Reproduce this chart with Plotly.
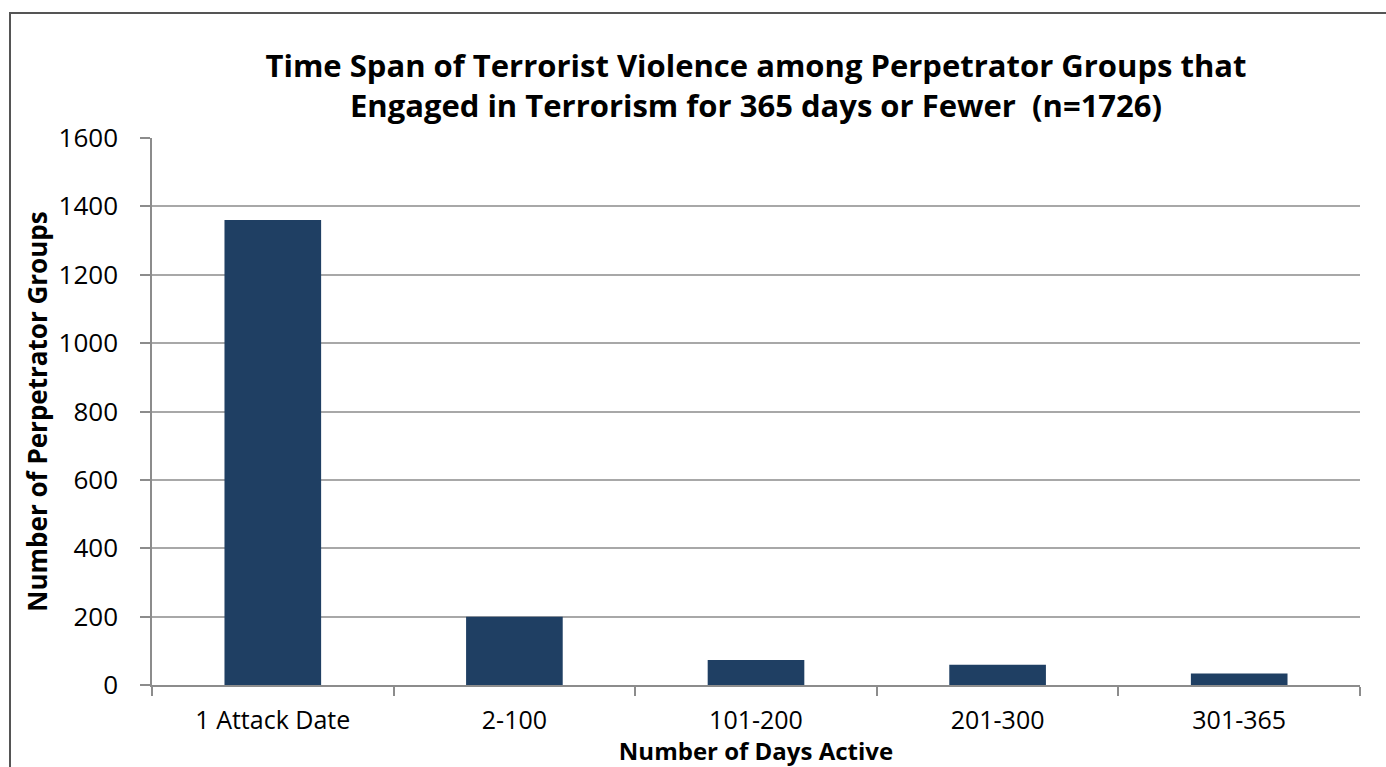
import plotly.graph_objects as go

categories = ["1 Attack Date", "2-100", "101-200", "201-300", "301-365"]
groups = [1360, 200, 73, 59, 34]
y_ticks = [0, 200, 400, 600, 800, 1000, 1200, 1400, 1600]

FONT = "Open Sans"
L, R, T, B = 152, 26, 138, 82
W, H = 1386, 767
pw, ph = W - L - R, H - T - B

fig = go.Figure(go.Bar(
    x=categories, y=groups,
    marker=dict(color="#1f3f63", line=dict(width=0)),
    width=0.4,
))

fig.update_layout(
    width=W, height=H,
    margin=dict(l=L, r=R, t=T, b=B),
    paper_bgcolor="white", plot_bgcolor="white",
    showlegend=False,
    title=dict(
        text="Time Span of Terrorist Violence among Perpetrator Groups that<br>Engaged in Terrorism for 365 days or Fewer  (n=1726)",
        x=0.5, xref="paper", xanchor="center",
        y=1 - 77 / H, yanchor="middle",
        font=dict(family=FONT, size=31, color="black", weight="bold"),
    ),
    font=dict(family=FONT, color="black"),
    xaxis=dict(
        automargin=False,
        showgrid=False, showline=True, linecolor="#8c8c8c", linewidth=1.5,
        ticks="outside", tickson="boundaries", ticklen=9, tickcolor="#8c8c8c", tickwidth=1.5,
        tickfont=dict(family=FONT, size=25, color="black"),
        ticklabelstandoff=12,
        title=dict(text="Number of Days Active", standoff=10,
                   font=dict(family=FONT, size=24, color="black", weight="bold")),
    ),
    yaxis=dict(
        automargin=False,
        range=[0, 1600], tickvals=y_ticks,
        showgrid=True, gridcolor="#a8a8a8", gridwidth=1.5,
        showline=True, linecolor="#8c8c8c", linewidth=1.5,
        ticks="outside", ticklen=10, tickcolor="#8c8c8c", tickwidth=1.5,
        tickfont=dict(family=FONT, size=26, color="black"),
        ticklabelstandoff=17,
        zeroline=False,
        title=dict(text="Number of Perpetrator Groups", standoff=3,
                   font=dict(family=FONT, size=26, color="black", weight="bold")),
    ),
    shapes=[dict(
        type="rect", xref="paper", yref="paper",
        x0=(10 - L) / pw, x1=(W + 10 - L) / pw,
        y0=-(B + 10) / ph, y1=1 + (T - 13) / ph,
        line=dict(color="#555555", width=2), fillcolor="rgba(0,0,0,0)",
        layer="below",
    )],
)

fig.write_html("out.html")
